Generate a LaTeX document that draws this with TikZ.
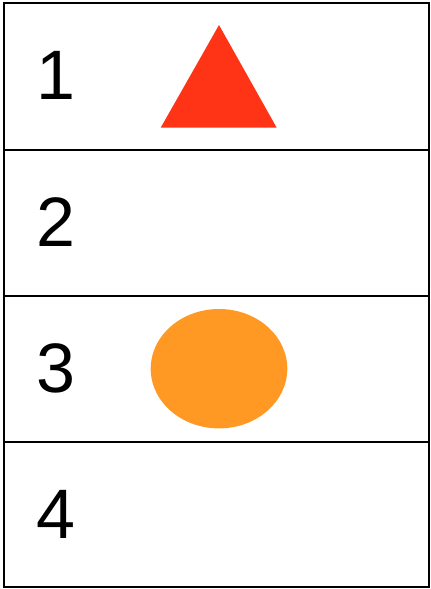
\documentclass[tikz,border=0pt]{standalone}
\usepackage{fontspec}
\setmainfont{Liberation Sans}
\usepackage{tikz}
\usepackage{xcolor}
\definecolor{trired}{HTML}{FF3316}
\definecolor{dotorange}{HTML}{FF9924}

\begin{document}
\begin{tikzpicture}[x=1pt,y=-1pt,
  numlabel/.style={inner sep=0pt,font=\fontsize{70}{70}\selectfont}]
\useasboundingbox (0,0) rectangle (431,589);
\draw[line width=2pt] (4,3) rectangle (429,587);
\draw[line width=2pt] (4,149.5)--(429,149.5);
\draw[line width=2pt] (4,295.5)--(429,295.5);
\draw[line width=2pt] (4,441.5)--(429,441.5);
\node[numlabel] (num1) at (56,75) {1};
\node[numlabel] (num2) at (56,222) {2};
\node[numlabel] (num3) at (56,368) {3};
\node[numlabel] (num4) at (56,514) {4};
\fill[trired] (160.7,127.7)--(276.7,127.7)--(219,25)--cycle;
\fill[dotorange] (219,368.7) ellipse (68.3 and 59.7);
\end{tikzpicture}
\end{document}
